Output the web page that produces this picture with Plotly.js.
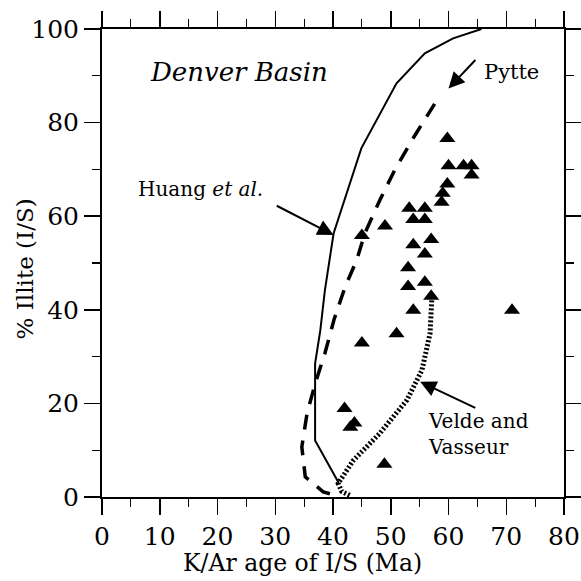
<!DOCTYPE html>
<html>
<head>
<meta charset="utf-8">
<script src="https://cdn.plot.ly/plotly-3.0.1.min.js"></script>
<style>html,body{margin:0;padding:0;background:#fff;}#chart{width:581px;height:581px;}</style>
</head>
<body>
<div id="chart"></div>
<script>
// Measured samples: K/Ar age (Ma) and % illite in I/S
const ageMa = [59.8, 60.0, 62.6, 64.0, 64.0, 59.8, 59.0, 58.8, 53.2, 55.9,
               53.9, 55.9, 49.0, 45.0, 57.0, 53.9, 55.9, 53.0, 53.0, 55.9,
               57.0, 53.9, 71.0, 51.0, 45.0, 42.0, 43.7, 43.0, 48.9];
const illitePct = [76.6, 70.8, 70.8, 70.8, 68.8, 66.9, 64.9, 63.0, 61.7, 61.7,
                   59.3, 59.3, 57.9, 55.9, 55.0, 53.9, 51.9, 49.0, 45.0, 45.9,
                   42.9, 39.9, 39.9, 34.9, 32.9, 18.9, 15.8, 14.9, 7.0];

// Model curves
const huangAge = [65.7, 60.8, 55.9, 51.0, 44.9, 42.1, 40.1, 38.6, 37.8, 36.9, 36.9, 41.0];
const huangIll = [100, 98.0, 94.8, 88.4, 74.5, 64.1, 56.3, 44.2, 35.6, 28.5, 12.1, 3.0];

const pytteAge = [57.6, 54.2, 50.7, 48.1, 45.5, 44.1, 42.1, 40.2, 38.6, 36.9, 35.5, 34.6, 35.2, 38.3, 40.0];
const pytteIll = [84.0, 77.3, 69.9, 63.4, 56.3, 50.6, 44.9, 38.0, 30.7, 24.2, 17.8, 10.7, 4.3, 1.1, 0.5];

const veldeAge = [57.1, 56.8, 55.4, 52.8, 48.1, 43.5, 40.9, 41.5, 43.0];
const veldeIll = [42.0, 34.9, 27.1, 20.7, 13.6, 7.8, 2.9, 1.2, 0.3];

const xTickVals = [0, 10, 20, 30, 40, 50, 60, 70, 80];
const xMinorVals = [5, 15, 25, 35, 45, 55, 65, 75];
const yTickVals = [0, 20, 40, 60, 80, 100];
const yMinorVals = [10, 30, 50, 70, 90];

const serif = '"DejaVu Serif", "Liberation Serif", serif';

const traces = [
  {x: huangAge, y: huangIll, mode: 'lines', line: {color: '#000', width: 2}, hoverinfo: 'skip', name: 'Huang et al.'},
  {x: pytteAge, y: pytteIll, mode: 'lines', line: {color: '#000', width: 3.5, dash: '15px,11px'}, hoverinfo: 'skip', name: 'Pytte'},
  {x: veldeAge, y: veldeIll, mode: 'lines', line: {color: '#000', width: 5, dash: '2px,2px'}, hoverinfo: 'skip', name: 'Velde and Vasseur'},
  {x: ageMa, y: illitePct, mode: 'markers', marker: {symbol: 'triangle-up', size: 14, color: '#000'}, name: 'Denver Basin'},
  // invisible copy so that the top/right frame axes are drawn
  {x: ageMa, y: illitePct, xaxis: 'x2', yaxis: 'y2', mode: 'markers', marker: {opacity: 0}, hoverinfo: 'skip', showlegend: false}
];

const arrowCommon = {text: '', showarrow: true, arrowhead: 2, arrowsize: 1.6, arrowwidth: 2,
                     arrowcolor: '#000', axref: 'x', ayref: 'y', xref: 'x', yref: 'y', standoff: 0};

function minorStyle(vals) {
  return {tickvals: vals, ticks: 'outside', ticklen: 8, tickwidth: 1.2, tickcolor: '#000', showgrid: false};
}
function axisStyle(extra) {
  return Object.assign({
    showgrid: false, zeroline: false, showline: true, linecolor: '#000', linewidth: 2,
    ticks: 'outside', ticklen: 16, tickwidth: 1.5, tickcolor: '#000', mirror: false,
    tickfont: {family: serif, size: 25, color: '#000'}
  }, extra);
}

const layout = {
  width: 581, height: 581,
  margin: {l: 102, r: 17, t: 29, b: 84},
  paper_bgcolor: '#fff', plot_bgcolor: '#fff',
  showlegend: false,
  xaxis: axisStyle({range: [0, 80], tickvals: xTickVals, ticktext: xTickVals.map(String), minor: minorStyle(xMinorVals)}),
  yaxis: axisStyle({range: [0, 100], tickvals: yTickVals, ticktext: yTickVals.map(String), minor: minorStyle(yMinorVals)}),
  xaxis2: axisStyle({range: [0, 80], overlaying: 'x', side: 'top', anchor: 'y2', tickvals: xTickVals,
    showticklabels: false, minor: minorStyle(xMinorVals)}),
  yaxis2: axisStyle({range: [0, 100], overlaying: 'y', side: 'right', anchor: 'x2', tickvals: yTickVals,
    showticklabels: false, minor: minorStyle(yMinorVals)}),
  annotations: [
    {text: 'K/Ar age of I/S (Ma)', xref: 'paper', yref: 'paper', x: 0.435, y: -0.142,
     xanchor: 'center', yanchor: 'middle', showarrow: false, font: {family: serif, size: 23.5, color: '#000'}},
    {text: '% Illite (I/S)', xref: 'paper', yref: 'paper', x: -0.166, y: 0.487, textangle: -90,
     xanchor: 'center', yanchor: 'middle', showarrow: false, font: {family: serif, size: 23, color: '#000'}},
    {text: '<i>Denver Basin</i>', xref: 'x', yref: 'y', x: 7.9, y: 90.8, xanchor: 'left', yanchor: 'middle',
     showarrow: false, font: {family: serif, size: 26, color: '#000'}},
    {text: 'Huang <i>et al.</i>', xref: 'x', yref: 'y', x: 5.9, y: 65.8, xanchor: 'left', yanchor: 'middle',
     showarrow: false, font: {family: serif, size: 20, color: '#000'}},
    {text: 'Pytte', xref: 'x', yref: 'y', x: 65.8, y: 90.8, xanchor: 'left', yanchor: 'middle',
     showarrow: false, font: {family: serif, size: 21, color: '#000'}},
    {text: 'Velde and<br>Vasseur', xref: 'x', yref: 'y', x: 56.1, y: 13.4, xanchor: 'left', yanchor: 'middle', align: 'left',
     showarrow: false, font: {family: serif, size: 20, color: '#000'}},
    Object.assign({}, arrowCommon, {x: 40.1, y: 56.0, ax: 30.0, ay: 62.4}),
    Object.assign({}, arrowCommon, {x: 60.0, y: 87.3, ax: 64.9, ay: 93.7}),
    Object.assign({}, arrowCommon, {x: 55.1, y: 24.6, ax: 64.9, ay: 18.9})
  ]
};

Plotly.newPlot('chart', traces, layout, {displayModeBar: false, staticPlot: true});
</script>
</body>
</html>
